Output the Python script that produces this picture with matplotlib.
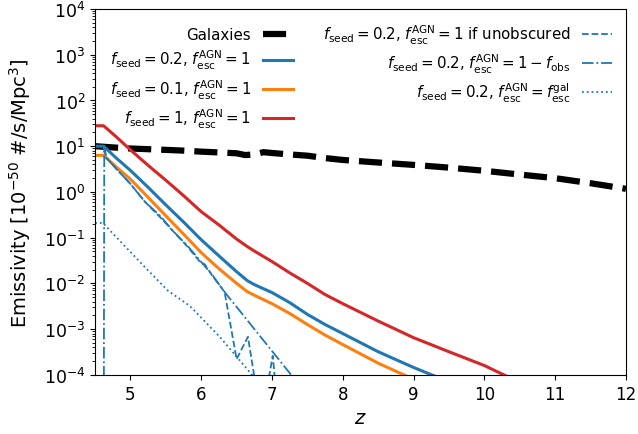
import numpy as np
from matplotlib import pyplot as plt
from matplotlib.ticker import LogLocator, NullFormatter

# galaxy emissivity
z_gal = [4.5, 4.75, 5.0, 5.25, 5.5, 5.75, 6.0, 6.25, 6.5, 6.62, 6.75, 6.88, 7.0, 7.25, 7.5,
         7.75, 8.0, 8.5, 9.0, 9.5, 10.0, 10.5, 11.0, 11.5, 12.0]
em_gal = [10.0, 9.4, 8.9, 8.6, 8.3, 8.0, 7.6, 7.3, 7.0, 6.4, 6.6, 7.4, 7.1, 6.6, 6.2,
          5.5, 5.0, 4.4, 3.9, 3.4, 2.9, 2.4, 2.0, 1.55, 1.17]

# AGN emissivity, f_esc^AGN = 1
z_agn = [4.5, 4.62, 4.8, 5.0, 5.25, 5.5, 5.75, 6.0, 6.25, 6.5, 6.65, 6.75, 7.0,
         7.25, 7.5, 7.75, 8.0, 8.5, 9.0, 9.5, 10.0, 10.5]
em_seed02 = [10, 10, 5.5, 2.95, 1.26, 0.52, 0.22, 0.09, 0.04, 0.018, 0.0115, 0.0094,
             0.0063, 0.0038, 0.0021, 1.26e-3, 8e-4, 3.2e-4, 1.45e-4, 7e-5, 3.5e-5, 1.7e-5]
em_seed01 = [6.3, 6.3, 3.5, 1.9, 0.76, 0.3, 0.12, 0.047, 0.021, 0.01, 0.0066, 0.0055,
             0.0036, 0.0022, 1.26e-3, 7.4e-4, 4.6e-4, 1.8e-4, 8e-5, 3.8e-5, 1.8e-5, 9e-6]
em_seed1 = [28, 28, 16, 8.3, 3.8, 1.8, 0.83, 0.37, 0.19, 0.093, 0.064, 0.051,
            0.03, 0.017, 0.01, 5.7e-3, 3.6e-3, 1.5e-3, 6.5e-4, 3.2e-4, 1.6e-4, 6.8e-5]

# f_seed = 0.2 with other escape fractions
z_unobs = [4.5, 4.61, 4.66, 4.8, 5.0, 5.2, 5.42, 5.6, 5.8, 5.98, 6.05, 6.16, 6.33,
           6.5, 6.66, 6.85, 7.01, 7.1]
em_unobs = [10, 10, 5.6, 3.2, 1.5, 0.62, 0.28, 0.14, 0.065, 0.03, 0.026, 0.0145, 0.0065,
            2.2e-4, 6.8e-4, 1e-5, 2.6e-4, 1e-5]
z_fobs = [4.5, 4.62, 4.63, 4.66, 4.8, 5.0, 5.2, 5.42, 5.6, 5.8, 5.98, 6.16, 6.33, 7.27, 7.4]
em_fobs = [1e-8, 1e-8, 10, 5.6, 3.2, 1.5, 0.62, 0.3, 0.14, 0.068, 0.032, 0.015, 0.0065,
           1e-4, 6e-5]
z_galesc = [4.5, 4.61, 4.85, 5.2, 5.53, 5.84, 6.26, 6.5, 6.8]
em_galesc = [0.21, 0.21, 0.085, 0.023, 0.0069, 0.0032, 6.8e-4, 2.5e-4, 7e-5]

plt.rcParams['font.size'] = 12
fig, ax = plt.subplots(figsize=(6.38, 4.35), dpi=100)
fig.subplots_adjust(left=0.149, right=0.981, top=0.977, bottom=0.136)

ax.plot(z_gal, em_gal, 'k--', lw=4.5, label='Galaxies')
ax.plot(z_agn, em_seed02, color='C0', lw=2.2,
        label=r'$f_{\rm seed}=0.2$, $f_{\rm esc}^{\rm AGN}=1$')
ax.plot(z_agn, em_seed01, color='C1', lw=2.2,
        label=r'$f_{\rm seed}=0.1$, $f_{\rm esc}^{\rm AGN}=1$')
ax.plot(z_agn, em_seed1, color='C3', lw=2.2,
        label=r'$f_{\rm seed}=1$, $f_{\rm esc}^{\rm AGN}=1$')
ax.plot(z_unobs, em_unobs, color='C0', ls='--', lw=1.3,
        label=r'$f_{\rm seed}=0.2$, $f_{\rm esc}^{\rm AGN}=1$ if unobscured')
ax.plot(z_fobs, em_fobs, color='C0', ls='-.', lw=1.3,
        label=r'$f_{\rm seed}=0.2$, $f_{\rm esc}^{\rm AGN}=1-f_{\rm obs}$')
ax.plot(z_galesc, em_galesc, color='C0', ls=':', lw=1.3,
        label=r'$f_{\rm seed}=0.2$, $f_{\rm esc}^{\rm AGN}=f_{\rm esc}^{\rm gal}$')

ax.set_yscale('log')
ax.set_xlim(4.5, 12)
ax.set_ylim(1e-4, 1e4)
ax.yaxis.set_major_locator(LogLocator(base=10, numticks=20))
ax.yaxis.set_minor_locator(LogLocator(base=10, subs=np.arange(2, 10), numticks=100))
ax.yaxis.set_minor_formatter(NullFormatter())
ax.tick_params(axis='y', labelsize=12.5)
ax.set_xlabel('$z$', fontsize=14)
ax.set_ylabel(r'Emissivity [$10^{-50}$ #/s/Mpc$^3$]', fontsize=14, labelpad=8)
ax.legend(loc='upper right', ncol=2, frameon=False, markerfirst=False,
          fontsize=10.8, labelspacing=0.4)

plt.savefig('out.png')
